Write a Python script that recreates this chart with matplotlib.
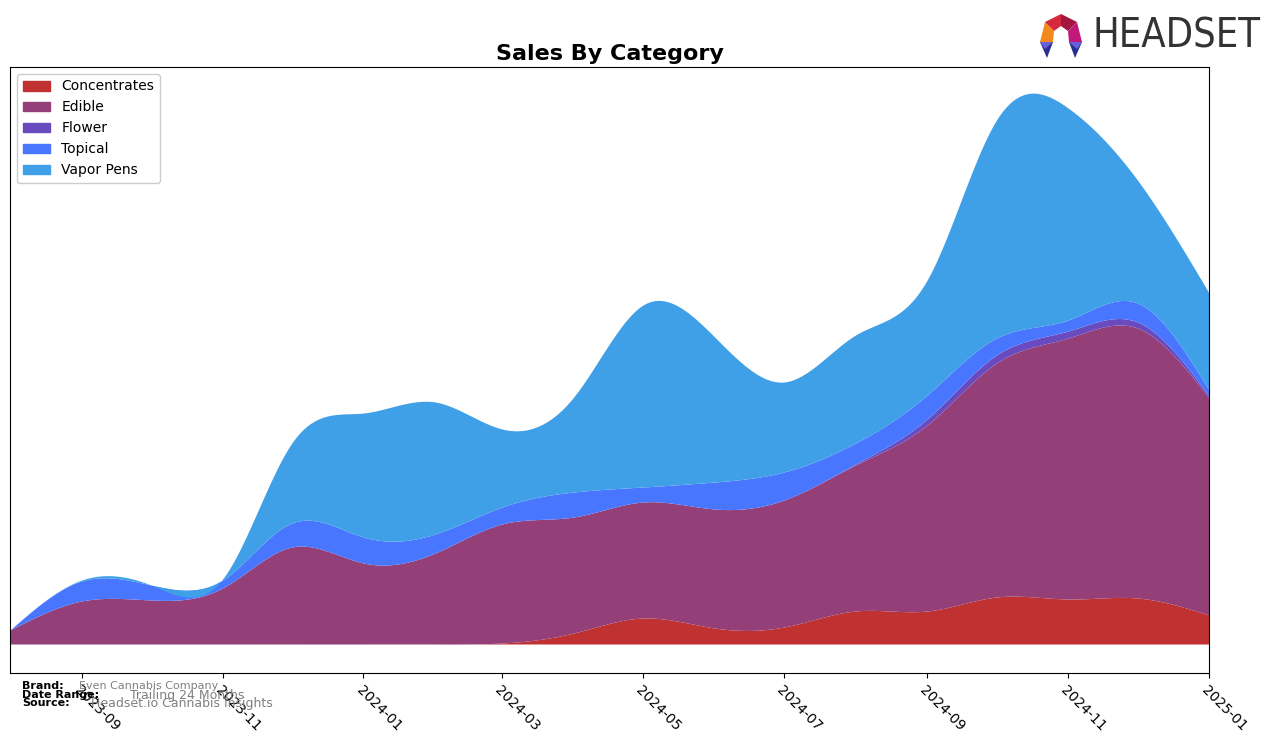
import numpy as np
import pandas as pd
import matplotlib
matplotlib.use('Agg')
import matplotlib.pyplot as plt
import matplotlib.dates as mdates
from matplotlib.patches import Patch, Polygon

# monthly values (arbitrary units)
months = pd.date_range('2023-08-01', '2025-01-01', freq='MS')
categories = ['Concentrates', 'Edible', 'Flower', 'Topical', 'Vapor Pens']
concentrates = [0, 0, 0, 0, 0, 0, 0, 1, 11, 26, 16, 17, 33, 33, 47, 45, 46, 29]
edible = [14, 43, 44, 56, 97, 81, 91, 119, 116, 116, 119, 127, 146, 186, 234, 261, 270, 217]
flower = [0, 0, 0, 0, 0, 0, 0, 0, 0, 0, 0, 0, 1, 6, 8, 7, 6, 2]
topical = [0, 20, 15, 8, 24, 26, 19, 17, 25, 15, 27, 28, 21, 24, 17, 11, 19, 6]
vapor_pens = [0, 1, 0, 1, 80, 124, 132, 78, 95, 182, 145, 90, 108, 115, 218, 212, 123, 97]

colors = ['#c03232', '#943f77', '#6a4bbf', '#4876ff', '#3fa0e8']


def natural_spline(x, y, xs):
    """cubic spline (natural ends) evaluated on xs - only used to smooth the drawing"""
    x = np.asarray(x, float)
    y = np.asarray(y, float)
    n = len(x)
    h = np.diff(x)
    A = np.zeros((n, n))
    b = np.zeros(n)
    A[0, 0] = A[-1, -1] = 1
    for i in range(1, n - 1):
        A[i, i - 1] = h[i - 1]
        A[i, i] = 2 * (h[i - 1] + h[i])
        A[i, i + 1] = h[i]
        b[i] = 3 * ((y[i + 1] - y[i]) / h[i] - (y[i] - y[i - 1]) / h[i - 1])
    c = np.linalg.solve(A, b)
    bb = (y[1:] - y[:-1]) / h - h * (2 * c[:-1] + c[1:]) / 3
    d = (c[1:] - c[:-1]) / (3 * h)
    k = np.clip(np.searchsorted(x, xs) - 1, 0, n - 2)
    t = xs - x[k]
    return y[k] + bb[k] * t + c[k] * t ** 2 + d[k] * t ** 3


xnum = mdates.date2num(months)
xs = np.linspace(xnum[0], xnum[-1], 800)
series = [concentrates, edible, flower, topical, vapor_pens]

fig = plt.figure(figsize=(12.76, 7.43), dpi=100)
ax = fig.add_axes([10 / 1276, 70 / 743, 1199 / 1276, 606 / 743])

base = np.zeros_like(xs)
for vals, col in zip(series, colors):
    top = base + natural_spline(xnum, vals, xs)
    ax.fill_between(xs, base, top, color=col, alpha=1, lw=0)
    base = top

ax.set_xlim(xnum[0], xnum[-1])
ax.set_ylim(-29, 577)
ax.set_yticks([])
ax.xaxis.set_major_locator(mdates.MonthLocator(bymonth=[1, 3, 5, 7, 9, 11]))
ax.xaxis.set_major_formatter(mdates.DateFormatter('%Y-%m'))
plt.setp(ax.get_xticklabels(), rotation=-45, ha='left', rotation_mode='anchor', fontsize=10)
ax.set_title('Sales By Category', fontsize=16, fontweight='bold', pad=5)

handles = [Patch(color=c, label=l) for c, l in zip(colors, categories)]
ax.legend(handles=handles, loc='upper left', fontsize=10, framealpha=1)

# footer
fig.text(22 / 1276, 1 - 686 / 743, 'Brand:', fontsize=8, fontweight='bold', va='center')
fig.text(22 / 1276, 1 - 695 / 743, 'Date Range:', fontsize=8, fontweight='bold', va='center')
fig.text(22 / 1276, 1 - 703 / 743, 'Source:', fontsize=8, fontweight='bold', va='center')
fig.text(79 / 1276, 1 - 686 / 743, 'Even Cannabis Company', fontsize=8, color='gray', va='center')
fig.text(130 / 1276, 1 - 695 / 743, 'Trailing 24 Months', fontsize=9, color='gray', va='center')
fig.text(91 / 1276, 1 - 703 / 743, 'Headset.io Cannabis Insights', fontsize=9, color='gray', va='center')

# logo
lax = fig.add_axes([1036 / 1276, 1 - 60 / 743, 50 / 1276, 48 / 743])
lax.set_xlim(0, 50)
lax.set_ylim(0, 48)
lax.axis('off')
for pts, col in [
    ([(9, 38), (4, 18), (17, 18), (18, 29)], '#f28a1e'),
    ([(9, 38), (25, 46), (25, 34), (18, 29)], '#d42a3c'),
    ([(25, 46), (41, 38), (32, 29), (25, 34)], '#a3163f'),
    ([(41, 38), (46, 18), (33, 18), (32, 29)], '#c21879'),
    ([(4, 18), (17, 18), (11, 2)], '#2b2f8f'),
    ([(4, 18), (17, 18), (9, 11)], '#6a5fdc'),
    ([(46, 18), (33, 18), (39, 2)], '#2b2f8f'),
    ([(46, 18), (33, 18), (41, 11)], '#6a5fdc'),
]:
    lax.add_patch(Polygon(pts, closed=True, color=col, lw=0))
logo = fig.text(1092 / 1276, 1 - 37 / 743, 'HEADSET', fontsize=30, color='#333333',
                va='center', family='DejaVu Sans', fontstretch='condensed')
fig.canvas.draw()
w = logo.get_window_extent().width
logo.set_fontsize(30 * 168 / w)

fig.savefig('out.png', dpi=100)
